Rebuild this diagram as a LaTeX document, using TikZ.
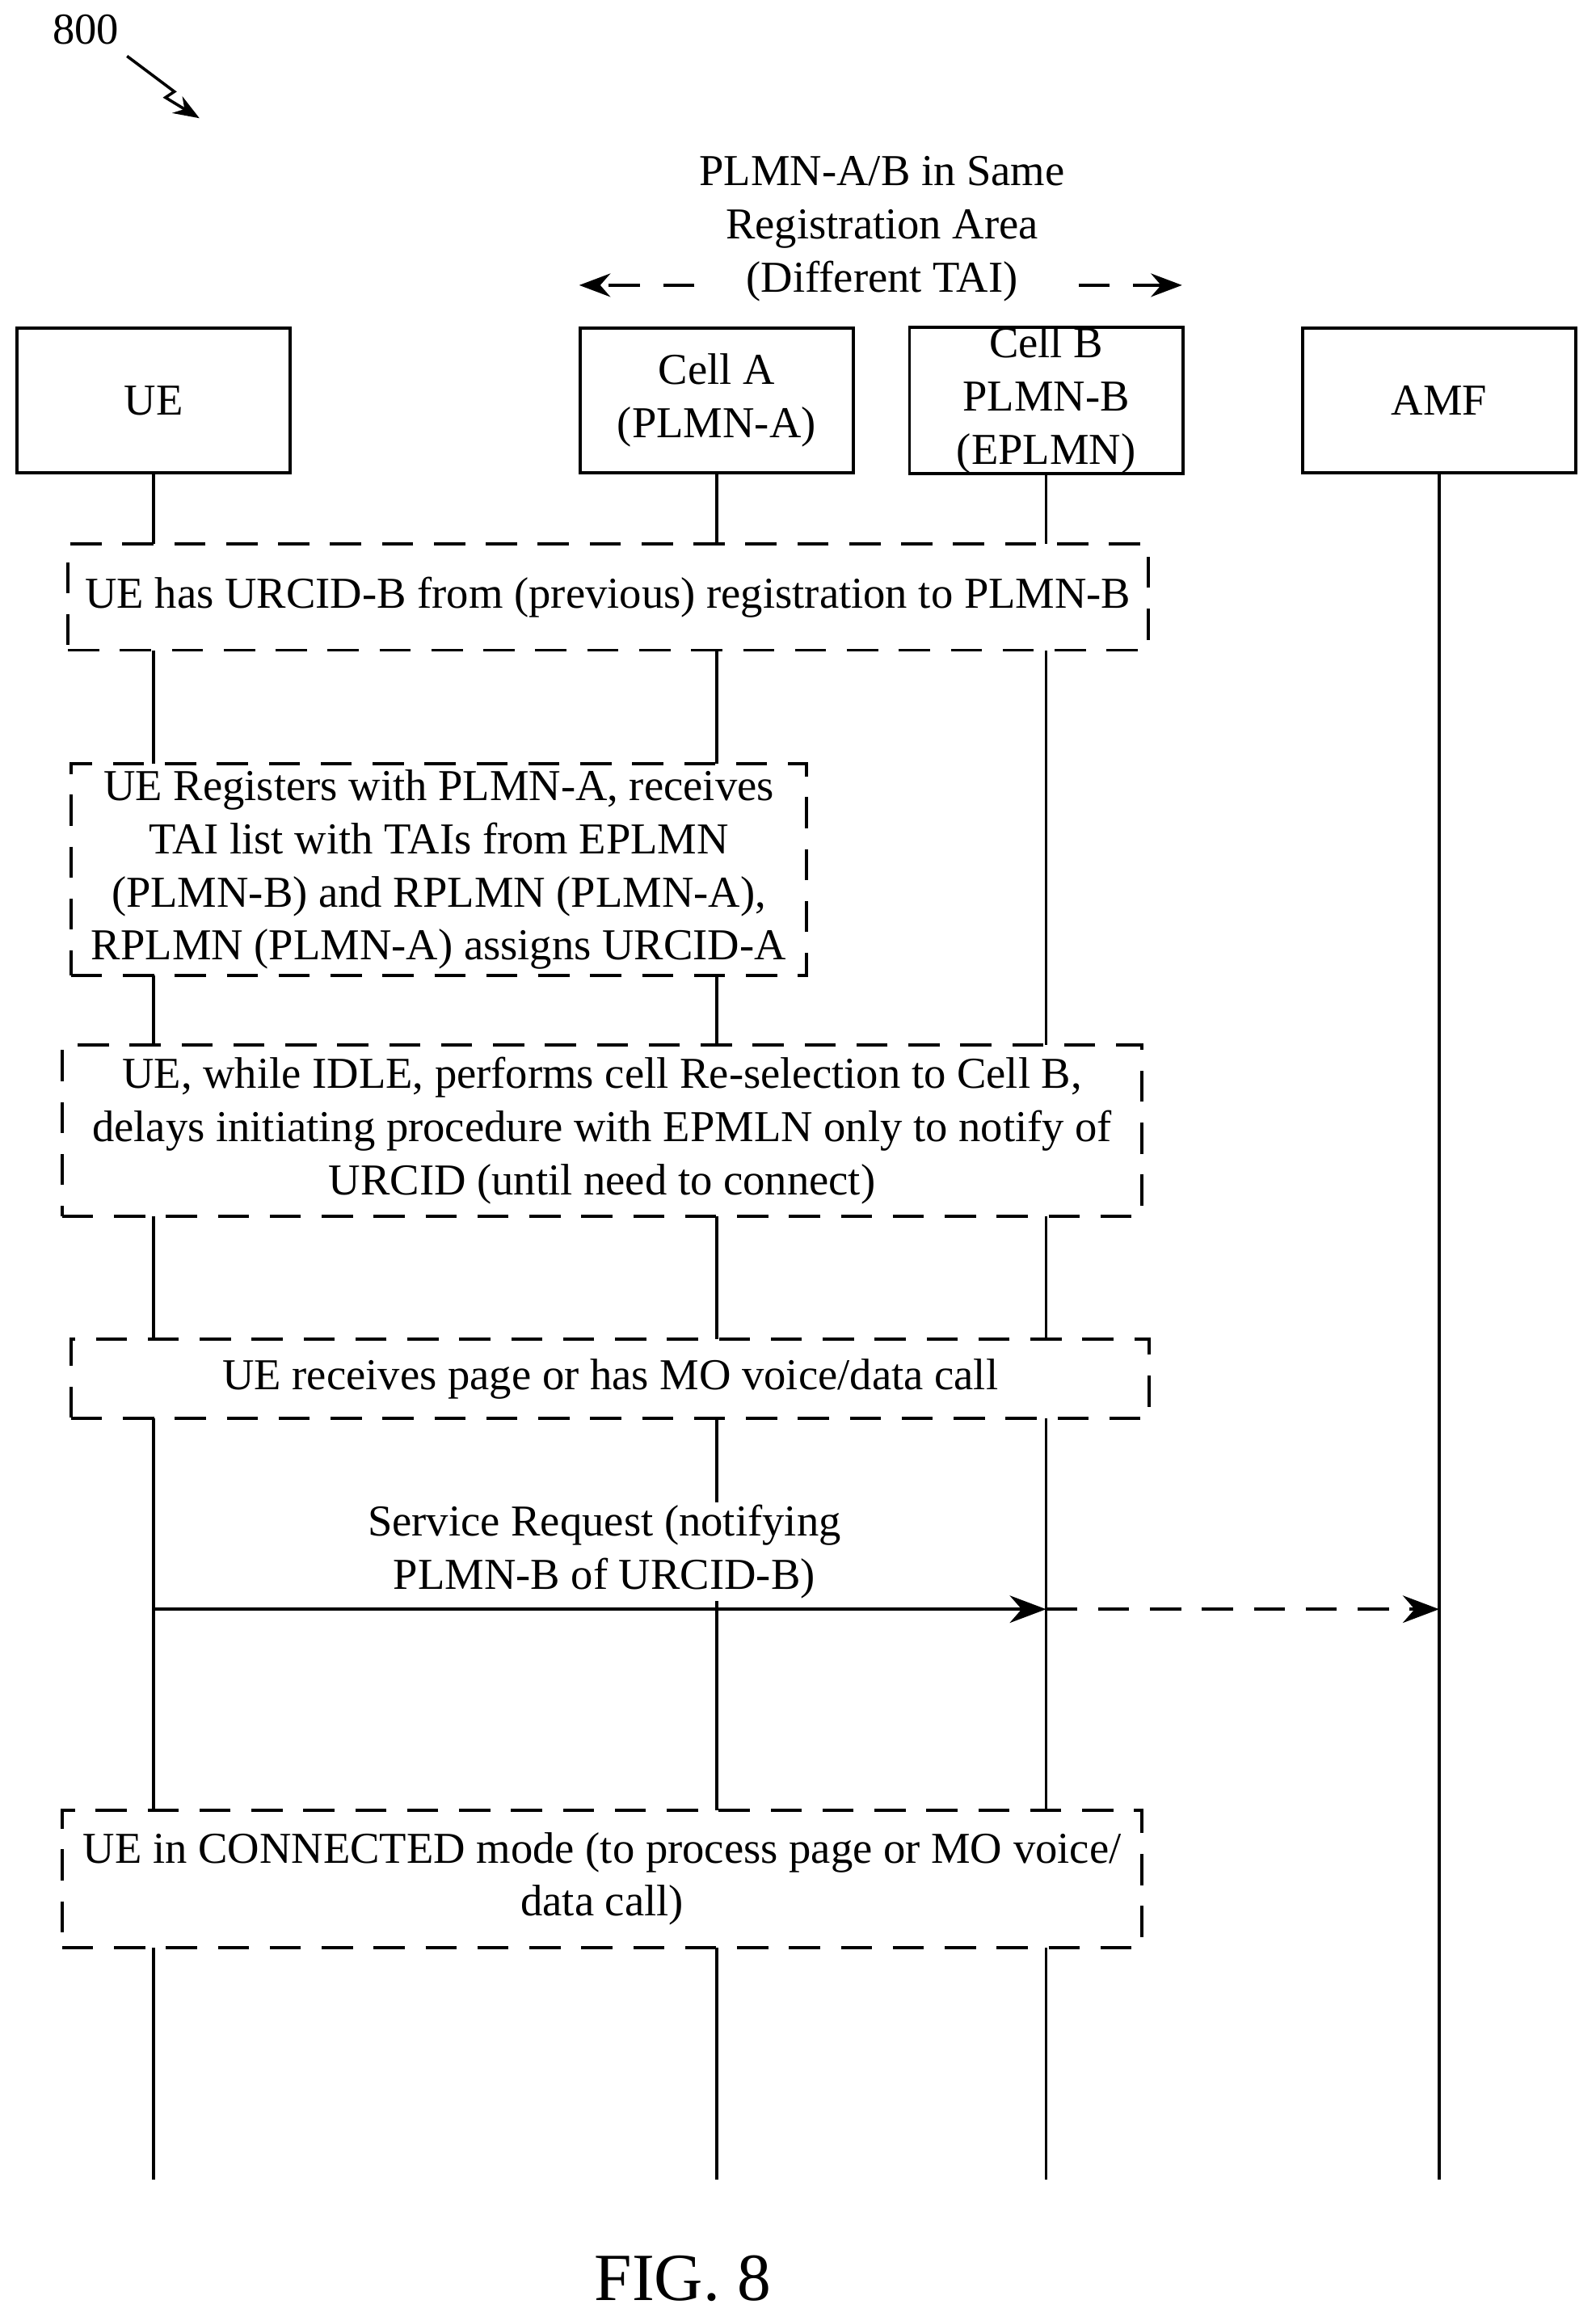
\documentclass[tikz,border=0pt]{standalone}
\usepackage{fontspec}
\setmainfont{Liberation Serif}
\usetikzlibrary{arrows.meta,calc}
\begin{document}
\begin{tikzpicture}[x=0.02cm,y=-0.02cm, line cap=butt,
  every node/.style={font=\fontsize{17}{20.5}\selectfont, align=center},
  entity/.style={draw, line width=1.2pt, minimum width=3.7cm, minimum height=1.96cm, inner sep=0pt},
  note/.style={draw, dashed, dash pattern=on 12pt off 8pt, line width=1.2pt, fill=white, inner sep=0pt},
  life/.style={line width=1.2pt}]
\useasboundingbox (0,0) rectangle (1080,1568);

% --- entities ---
\node[entity] (ue)  at (104,271) {UE};
\node[entity] (cla) at (485,271) {Cell A\\(PLMN-A)};
\node[entity] (clb) at (708,271) {Cell B\\PLMN-B\\(EPLMN)};
\node[entity] (amf) at (974,271) {AMF};

% --- lifelines ---
\coordinate (ueE)  at (104,1475);
\coordinate (claE) at (485,1475);
\coordinate (clbE) at (708,1475);
\coordinate (amfE) at (974,1475);
\draw[life] (ue.south) -- (ueE);
\draw[life] (cla.south) -- (claE);
\draw[life] (clb.south) -- (clbE);
\draw[life] (amf.south) -- (amfE);

% --- registration area ---
\node (area) at (597,155) {PLMN-A/B in Same\\Registration Area\\(Different TAI)};
\coordinate (aL) at (392,193);
\coordinate (aR) at (800,193);
\draw[life, dashed, dash pattern=on 12pt off 9pt, -{Stealth[length=12pt]}] (470,193) -- (aL);
\draw[life, dashed, dash pattern=on 12pt off 9pt, -{Stealth[length=12pt]}] (730,193) -- (aR);

% --- notes ---
\node[note, minimum width=14.62cm, minimum height=1.44cm] (n1) at (411.5,404)
  {UE has URCID-B from (previous) registration to PLMN-B};
\node[note, minimum width=9.96cm, minimum height=2.86cm] (n2) at (297,588.5)
  {UE Registers with PLMN-A, receives\\TAI list with TAIs from EPLMN\\(PLMN-B) and RPLMN (PLMN-A),\\RPLMN (PLMN-A) assigns URCID-A};
\node[note, minimum width=14.62cm, minimum height=2.32cm] (n3) at (407.5,765)
  {UE, while IDLE, performs cell Re-selection to Cell B,\\delays initiating procedure with EPMLN only to notify of\\URCID (until need to connect)};
\node[note, minimum width=14.6cm, minimum height=1.08cm] (n4) at (413,933)
  {UE receives page or has MO voice/data call};
\node[note, minimum width=14.62cm, minimum height=1.86cm] (n5) at (407.5,1271.5)
  {UE in CONNECTED mode (to process page or MO voice/\\data call)};

% --- service request ---
\coordinate (srU) at (104,1089);
\coordinate (srB) at (708,1089);
\coordinate (srA) at (974,1089);
\draw[life, -{Stealth[length=14pt]}] (srU) -- (srB);
\draw[life, dashed, dash pattern=on 12pt off 8pt, -{Stealth[length=14pt]}] (srB) -- (srA);
\node[fill=white, inner sep=1pt] (srl) at (409,1050) {Service Request (notifying\\PLMN-B of URCID-B)};

% --- figure label ---
\node (num) at (58,20) {800};
\coordinate (zz) at (135,80);
\draw[line width=1.1pt, -{Stealth[length=10pt]}] (86,38) -- (118,62) -- (112,66) -- (zz);
\node[font=\fontsize{26}{30}\selectfont] (fig) at (462,1542) {FIG. 8};
\end{tikzpicture}
\end{document}
